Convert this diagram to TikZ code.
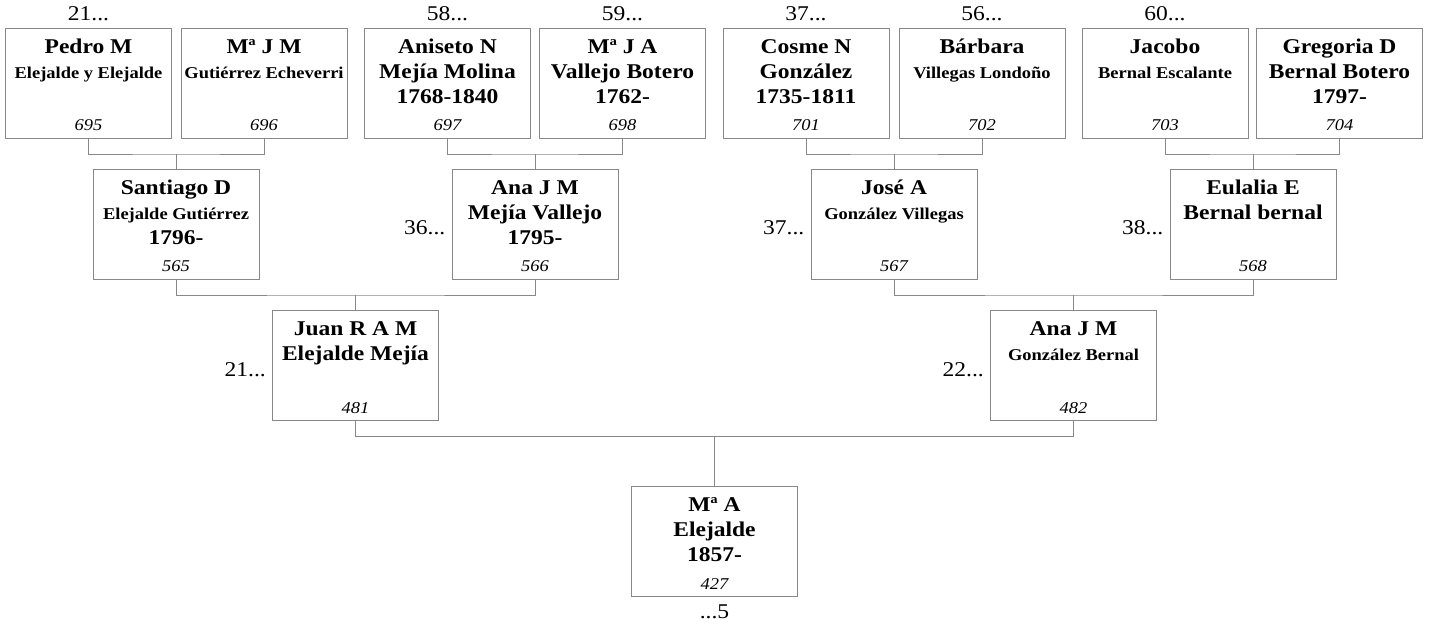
\documentclass[tikz,border=0pt]{standalone}
\usepackage{fontspec}
\setmainfont{Liberation Serif}[FakeStretch=1.12]
\usepackage{tikz}
\usetikzlibrary{positioning}
\definecolor{linegray}{RGB}{136,136,136}

% one person box: name lines on top, number at the bottom
\newcommand{\person}[2]{\parbox[c][110pt][t]{166pt}{\centering
  \fontsize{21}{25}\selectfont\bfseries\rule{0pt}{25pt}#1\par\vfill
  {\mdseries\itshape\fontsize{16.5}{18}\selectfont #2\par}\vspace{7pt}}}
\newcommand{\sm}[1]{{\fontsize{16.5}{25}\selectfont #1}}

\begin{document}
\begin{tikzpicture}[
    x=1pt, y=-1pt,
    person/.style={rectangle, draw=linegray, line width=1pt, inner sep=0pt},
    num label/.style={inner sep=0pt, font=\fontsize{21}{24}\selectfont},
    edge/.style={draw=linegray, line width=1pt},
  ]
  \useasboundingbox (0,0) rectangle (1429,625);

  % Nodes (great-grandparents)
  \node[person] (p695) at (88.5, 83)   {\person{Pedro M\\\sm{Elejalde y Elejalde}}{695}};
  \node[person] (p696) at (264, 83)    {\person{Mª J M\\\sm{Gutiérrez Echeverri}}{696}};
  \node[person] (p697) at (447.5, 83)  {\person{Aniseto N\\Mejía Molina\\1768-1840}{697}};
  \node[person] (p698) at (622.5, 83)  {\person{Mª J A\\Vallejo Botero\\1762-}{698}};
  \node[person] (p701) at (806, 83)    {\person{Cosme N\\González\\1735-1811}{701}};
  \node[person] (p702) at (982, 83)    {\person{Bárbara\\\sm{Villegas Londoño}}{702}};
  \node[person] (p703) at (1165, 83)   {\person{Jacobo\\\sm{Bernal Escalante}}{703}};
  \node[person] (p704) at (1339.5, 83) {\person{Gregoria D\\Bernal Botero\\1797-}{704}};

  % Nodes (grandparents)
  \node[person] (p565) at (176, 224)  {\person{Santiago D\\\sm{Elejalde Gutiérrez}\\1796-}{565}};
  \node[person] (p566) at (535, 224)  {\person{Ana J M\\Mejía Vallejo\\1795-}{566}};
  \node[person] (p567) at (894, 224)  {\person{José A\\\sm{González Villegas}}{567}};
  \node[person] (p568) at (1253, 224) {\person{Eulalia E\\Bernal bernal}{568}};

  % Nodes (parents and child)
  \node[person] (p481) at (355.5, 365.5)  {\person{Juan R A M\\Elejalde Mejía}{481}};
  \node[person] (p482) at (1073.5, 365.5) {\person{Ana J M\\\sm{González Bernal}}{482}};
  \node[person] (p427) at (714.5, 541.5)  {\person{Mª A\\Elejalde\\1857-}{427}};

  % Labels
  \node[num label, above=7pt of p695] (l695) {21...};
  \node[num label, above=7pt of p697] (l697) {58...};
  \node[num label, above=7pt of p698] (l698) {59...};
  \node[num label, above=7pt of p701] (l701) {37...};
  \node[num label, above=7pt of p702] (l702) {56...};
  \node[num label, above=7pt of p703] (l703) {60...};
  \node[num label, left=6pt of p566, yshift=-4pt] (l566) {36...};
  \node[num label, left=6pt of p567, yshift=-4pt] (l567) {37...};
  \node[num label, left=6pt of p568, yshift=-4pt] (l568) {38...};
  \node[num label, left=6pt of p481, yshift=-4pt] (l481) {21...};
  \node[num label, left=6pt of p482, yshift=-4pt] (l482) {22...};
  \node[num label, below=8pt of p427] (l427) {...5};

  % Junctions
  \coordinate (j565) at (176, 154);
  \coordinate (j566) at (535, 154);
  \coordinate (j567) at (894, 154);
  \coordinate (j568) at (1253, 154);
  \coordinate (j481) at (355.5, 295);
  \coordinate (j482) at (1073.5, 295);
  \coordinate (j427) at (714.5, 436);

  % Edges
  \draw[edge] (p695.south) |- (j565) -| (p696.south);
  \draw[edge] (j565) -- (p565.north);
  \draw[edge] (p697.south) |- (j566) -| (p698.south);
  \draw[edge] (j566) -- (p566.north);
  \draw[edge] (p701.south) |- (j567) -| (p702.south);
  \draw[edge] (j567) -- (p567.north);
  \draw[edge] (p703.south) |- (j568) -| (p704.south);
  \draw[edge] (j568) -- (p568.north);
  \draw[edge] (p565.south) |- (j481) -| (p566.south);
  \draw[edge] (j481) -- (p481.north);
  \draw[edge] (p567.south) |- (j482) -| (p568.south);
  \draw[edge] (j482) -- (p482.north);
  \draw[edge] (p481.south) |- (j427) -| (p482.south);
  \draw[edge] (j427) -- (p427.north);

\end{tikzpicture}
\end{document}
